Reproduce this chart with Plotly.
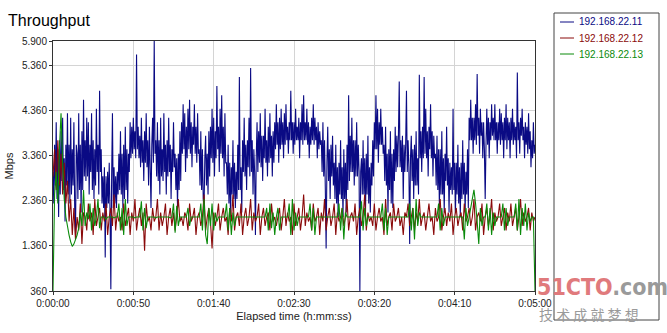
import numpy as np
import plotly.graph_objects as go

series_names = ["192.168.22.11", "192.168.22.12", "192.168.22.13"]
series_colors = ["#0a0a84", "#8a0a0a", "#0a8a0a"]
series_widths = [1.1, 1.1, 1.1]

# 192.168.22.11: samples every half second (Mbps)
ip11 = [3.0, 2.3, 3.6, 2.7, 4.1, 2.4, 3.5, 2.0, 3.7, 2.5, 3.9, 2.8, 4.2, 2.6, 3.3, 1.9, 3.6, 2.7, 4.3, 2.5,
        3.6, 2.3, 4.2, 2.5, 3.5, 2.7, 4.1, 2.2, 1.6, 3.6, 3.4, 2.4, 4.3, 2.6, 3.6, 2.1, 3.9, 2.6, 4.6, 2.9,
        3.7, 2.8, 4.2, 2.9, 4.1, 2.5, 3.6, 3.0, 4.3, 2.6, 3.7, 2.4, 3.5, 2.7, 4.4, 3.0, 3.6, 2.5, 4.8, 3.0, 3.5, 2.3,
        2.9, 2.2, 3.1, 1.1, 2.9, 2.2, 3.0, 2.3, 3.2, 2.1, 0.4, 2.9, 4.3, 2.2, 3.1, 2.3, 2.9, 2.2, 3.0, 2.5,
        3.4, 2.6, 3.9, 2.5, 3.4, 2.2, 3.6, 2.4, 4.0, 2.6, 3.5, 2.3, 3.4, 3.0,
        4.1, 3.3, 4.0, 3.4, 4.2, 3.5, 3.9, 3.3, 5.6, 3.5, 4.0, 3.3,
        3.8, 3.1, 4.2, 3.2, 3.7, 2.8, 3.9, 3.2, 4.3, 3.1, 3.7, 2.7, 4.0, 3.1, 2.2, 3.6, 4.2, 3.2,
        5.9, 3.4,
        3.7, 2.9, 4.1, 2.8, 3.7, 2.5, 4.2, 2.9, 3.5, 2.8, 4.3, 3.0, 3.6, 2.5, 3.7, 2.9, 4.2, 3.0, 3.6, 2.4, 3.5, 3.0, 4.1, 3.1,
        3.4, 2.6, 3.3, 2.2, 3.4, 2.6, 3.9, 2.8,
        4.1, 3.4, 4.5, 3.5, 4.3, 3.0, 4.0, 3.3, 4.4, 3.5, 4.6, 3.4, 4.1, 3.1, 4.0, 3.6, 4.5, 3.4, 4.0, 3.2, 4.3, 3.4,
        3.5, 2.7, 3.9, 2.6, 3.5, 2.4, 2.2, 3.3, 3.8, 2.7, 3.4, 2.5, 3.9, 2.9,
        4.0, 3.3, 4.4, 3.2, 4.2, 2.9, 3.9, 3.3, 4.9, 3.5, 4.0, 3.0, 4.4, 3.4, 4.7, 3.3, 4.0, 2.9, 4.3, 3.2,
        3.2, 2.5, 3.6, 2.3, 3.2, 2.0, 3.1, 2.5, 3.7, 2.4, 3.2, 2.2, 3.0, 2.4, 3.6, 2.6, 5.1, 2.6, 3.1, 2.1,
        3.7, 3.0, 4.2, 2.9, 3.6, 2.6, 3.7, 3.1, 4.2, 2.9, 5.3, 3.0, 3.7, 2.5, 3.5, 3.0, 1.6, 3.3, 4.1, 3.0,
        3.9, 3.2, 4.3, 3.1, 3.8, 2.8, 3.8, 3.3, 4.4, 3.2, 3.7, 2.9, 4.0, 3.2, 4.3, 3.3, 3.8, 2.9, 3.9, 3.2,
        4.1, 3.5, 4.5, 3.6, 4.1, 3.2, 4.2, 3.5, 4.4, 3.6, 4.1, 3.3, 4.3, 3.6, 4.5, 3.7, 4.0, 3.4,
        4.1, 3.7, 4.8, 3.7, 4.1, 3.4, 4.1, 3.6, 4.4, 3.7, 4.0, 3.7, 4.2, 3.3, 4.1, 3.7, 4.5, 3.6, 4.7, 3.7,
        4.1, 3.7, 4.4, 3.6, 4.1, 3.3, 4.0, 3.6, 4.2, 3.7, 4.5, 3.6, 4.2, 3.7, 4.0, 3.3, 4.1, 3.5, 3.9, 3.6,
        3.7, 3.0, 4.1, 2.9, 3.7, 2.6, 1.3, 3.2, 4.0, 2.8, 3.5, 2.4, 3.6, 2.9, 3.8, 2.7,
        3.2, 2.4, 3.6, 2.3, 3.1, 2.0, 3.2, 2.5, 3.7, 2.4, 3.1, 2.0, 3.5, 2.4, 3.2, 2.1, 3.6, 2.6, 4.7, 2.8,
        3.8, 3.0, 4.2, 3.0, 3.7, 2.7, 3.7, 2.9, 4.1, 2.9, 3.6, 3.0,
        0.36, 3.0,
        3.3, 2.5, 3.7, 2.5, 3.3, 2.1, 3.4, 2.5, 3.8, 2.3, 3.1, 2.1, 3.2, 2.7, 3.7, 2.9,
        4.1, 3.5, 4.7, 3.5, 4.4, 3.2, 4.1, 3.6, 4.4, 3.6, 4.0, 3.4,
        3.6, 2.8, 4.0, 2.7, 3.4, 2.1, 3.5, 2.6, 3.9, 2.3, 3.4, 2.2, 3.5, 2.8, 4.0, 3.0,
        3.8, 3.1, 3.8, 5.0, 3.1, 3.7, 3.0, 3.8, 2.4, 3.6, 3.0, 3.6, 4.8, 3.0, 3.7, 3.1,
        1.4, 3.3, 3.8, 2.8, 3.5, 2.4, 3.6, 2.7, 3.9, 2.7, 3.3, 2.5,
        5.15, 3.3, 3.9, 3.0, 4.0, 3.3, 5.1, 3.4, 4.4, 3.3, 3.9, 2.9, 4.0, 3.5, 4.5, 3.3, 3.9, 2.9, 3.8, 3.3,
        3.4, 2.7, 3.8, 2.6, 3.5, 2.2, 3.5, 2.5, 3.9, 2.5, 3.3, 2.1, 3.4, 2.8, 4.0, 2.7, 3.3, 2.1, 3.2, 2.6,
        3.1, 2.5, 4.4, 2.6, 3.2, 2.1, 3.2, 2.5, 3.6, 2.3, 3.1, 2.0, 3.2, 2.4, 3.7, 2.5, 3.2, 2.1, 3.0, 2.5, 3.5, 2.2,
        4.2, 3.7, 4.6, 3.7, 4.2, 3.4, 4.2, 3.7, 4.5, 3.6, 5.17, 3.8, 4.2, 3.4, 4.4, 3.8, 4.1, 3.3, 4.1, 3.5,
        2.4, 3.6, 4.4, 3.6, 4.2, 3.3, 4.1, 3.7, 4.5, 3.8,
        4.2, 3.7, 4.5, 3.7, 4.1, 3.4, 4.1, 3.7, 4.4, 3.6, 4.3, 3.7, 4.1, 3.3, 4.2, 3.7, 4.5, 3.5, 4.2, 3.7,
        4.1, 3.3, 4.2, 3.7, 4.4, 3.6, 4.1, 3.7, 4.0, 3.3, 5.2, 3.7, 4.1, 3.4, 4.2, 3.8, 4.4, 3.7, 4.0, 3.3,
        4.1, 3.6, 4.0, 3.4, 4.3, 3.5, 3.9, 3.1, 3.7, 3.3, 4.1, 3.4,
        3.6]

# 192.168.22.12: samples every second (Mbps)
ip12 = [2.9, 3.5, 2.6, 3.7, 2.7, 3.4, 2.5, 3.2, 2.3, 2.8,
        1.9, 2.4, 1.6, 2.2, 1.5, 2.0, 1.7, 2.3, 1.4, 2.1,
        2.0, 1.7, 2.3, 1.9, 2.1, 1.6, 2.4, 1.8, 2.0, 2.2, 1.7, 2.1, 1.9, 2.3, 1.6, 2.0, 2.2, 1.8, 2.5, 1.7,
        2.1, 1.9, 2.0, 1.7, 2.3, 1.8, 2.0, 2.2, 1.6, 2.1, 1.9, 2.4, 1.7, 2.0, 2.2, 1.8, 2.1, 1.25, 2.3, 1.9,
        2.0, 1.7, 2.2, 1.9, 2.0, 2.4, 1.7, 2.1, 1.8, 2.0, 2.3, 1.6, 2.0, 2.2, 1.8, 2.1, 1.7, 2.0, 2.4, 1.9,
        2.0, 1.8, 2.1, 2.0, 1.7, 2.3, 1.9, 2.0, 2.2, 1.6, 2.0, 2.1, 1.8, 2.0, 2.5, 1.7, 2.0, 2.2, 1.9, 1.3,
        2.1, 1.8, 2.0, 2.3, 1.7, 2.0, 2.2, 1.9, 2.0, 1.6, 2.2, 1.9, 2.5, 1.7, 2.0, 2.1, 1.8, 2.3, 1.6, 2.0,
        2.2, 1.8, 2.0, 2.4, 1.7, 2.1, 1.9, 2.0, 2.3, 1.6, 2.0, 2.2, 1.8, 2.0, 2.1, 1.7, 2.3, 1.9, 2.0, 1.8,
        2.0, 2.2, 1.7, 2.0, 2.4, 1.8, 2.1, 1.9, 2.0, 1.6, 2.3, 1.8, 2.0, 2.2, 1.7, 2.0, 2.5, 1.8, 2.1, 1.9,
        2.0, 1.7, 2.3, 1.9, 2.0, 2.2, 1.6, 2.1, 1.9, 2.4, 1.7, 2.0, 2.2, 1.8, 2.0, 2.3, 1.6, 2.1, 1.9, 2.0,
        2.2, 1.8, 2.0, 2.4, 1.7, 2.0, 2.1, 1.9, 2.3, 1.6, 2.0, 2.2, 1.8, 2.0, 2.5, 1.7, 2.1, 1.9, 2.0, 1.8,
        2.3, 1.7, 2.0, 2.2, 1.9, 2.0, 1.6, 2.4, 1.8, 2.0, 2.1, 1.7, 2.3, 1.9, 2.0, 2.2, 1.8, 2.0, 1.6, 2.1,
        2.0, 2.3, 1.8, 2.0, 2.2, 1.7, 2.1, 1.9, 2.4, 1.8, 2.0, 2.1, 1.7, 2.0, 2.3, 1.9, 2.0, 1.6, 2.2, 1.9,
        2.0, 2.4, 1.7, 2.0, 2.2, 1.8, 2.1, 1.9, 2.3, 1.6, 2.0, 2.2, 1.8, 2.0, 2.1, 1.7, 2.3, 1.9, 2.0, 2.2,
        1.8, 2.0, 2.4, 1.7, 2.0, 2.1, 1.9, 2.3, 1.6, 2.0, 2.2, 1.8, 2.0, 2.4, 1.7, 2.1, 1.9, 2.0, 2.3, 1.8,
        2.0, 2.2, 1.7, 2.1, 1.9, 2.3, 1.8, 2.0, 2.2, 1.7, 2.0, 2.4, 1.8, 2.1, 1.9, 2.0, 2.2, 1.7, 2.1, 1.9,
        2.0]

# 192.168.22.13: samples every second (Mbps)
ip13 = [0.36, 2.5, 3.0, 2.3, 3.5, 4.3, 3.2, 2.4, 2.0, 1.8, 1.6, 1.45, 1.35, 1.4, 1.5, 1.6, 1.75, 2.1, 1.8, 2.6,
        1.8, 2.1, 1.95, 2.3, 1.7, 2.2, 1.8, 2.0, 2.4, 1.75, 2.0, 2.0, 2.0, 1.95, 2.0, 2.0, 2.0, 2.0, 1.98, 2.0,
        2.0, 2.3, 1.7, 2.2, 1.6, 2.4, 1.8, 2.0, 2.0, 2.0, 2.0, 1.98, 2.0, 2.0, 2.0, 2.35, 1.7, 2.2, 1.75, 2.0,
        2.0, 2.0, 2.0, 2.0, 1.98, 2.0, 2.0, 2.0, 2.0, 2.0, 2.0, 2.0, 2.0, 1.98, 2.0, 2.3, 1.65, 2.25, 1.8, 2.0,
        2.0, 2.0, 2.0, 2.0, 2.2, 1.8, 2.0, 2.0, 2.0, 2.0, 2.0, 2.0, 2.3, 1.7, 2.4, 1.6, 1.4, 2.2, 1.8, 2.3,
        1.7, 2.1, 1.9, 2.0, 2.0, 2.0, 2.0, 2.0, 2.3, 1.7, 2.2, 1.6, 2.1, 1.8, 2.0, 2.0, 2.0, 2.0, 2.0, 2.0,
        2.0, 2.0, 2.0, 2.0, 2.0, 2.0, 2.0, 2.0, 2.0, 2.0, 2.0, 2.0, 2.0, 2.2, 1.7, 2.3, 1.75, 2.1, 1.6, 2.0,
        2.2, 1.7, 2.0, 2.0, 2.0, 2.0, 2.0, 2.3, 1.6, 2.4, 1.7, 2.1, 1.8, 2.0, 2.0, 2.0, 2.0, 2.0, 2.0, 2.0,
        2.3, 1.7, 2.2, 1.6, 2.0, 2.0, 2.0, 2.0, 2.0, 2.0, 2.0, 2.0, 2.0, 2.0, 2.0, 2.0, 2.0, 2.0, 2.3, 1.7,
        2.2, 1.5, 2.1, 2.0, 2.0, 2.0, 2.0, 2.0, 2.0, 2.0, 2.0, 2.0, 2.35, 1.7, 2.2, 1.8, 2.0, 2.0, 2.0, 2.0,
        2.0, 2.0, 2.0, 2.0, 2.0, 2.3, 1.7, 2.2, 1.6, 2.0, 2.0, 2.0, 2.0, 2.0, 2.0, 2.0, 2.0, 2.0, 2.0, 2.0,
        2.0, 2.0, 2.3, 1.7, 2.2, 1.5, 2.4, 1.8, 2.1, 2.0, 2.0, 2.0, 2.0, 2.0, 2.0, 2.0, 2.0, 2.0, 2.0, 2.0,
        2.3, 1.7, 2.2, 1.8, 2.0, 2.0, 2.0, 2.0, 2.0, 2.0, 2.0, 2.0, 2.0, 2.0, 2.0, 2.0, 1.5, 2.2, 1.8, 2.0,
        2.2, 2.4, 2.6, 2.3, 1.9, 1.4, 2.2, 1.8, 2.0, 2.0, 2.3, 1.7, 2.2, 1.6, 2.1, 1.8, 2.0, 2.0, 2.0, 2.0,
        2.3, 1.7, 2.2, 1.8, 2.0, 2.0, 2.0, 2.0, 2.3, 1.7, 2.4, 1.6, 2.2, 1.8, 2.3, 1.7, 2.1, 1.9, 2.0, 2.0,
        0.36]

x_tickvals = [0, 50, 100, 150, 200, 250, 300]
x_ticktext = ["0:00:00", "0:00:50", "0:01:40", "0:02:30", "0:03:20", "0:04:10", "0:05:00"]
y_tickvals = [0.36, 1.36, 2.36, 3.36, 4.36, 5.36, 5.9]
y_ticktext = ["360", "1.360", "2.360", "3.360", "4.360", "5.360", "5.900"]

FONT = "Arial, Liberation Sans, sans-serif"

# pixel -> paper helpers for the plot box (53..535 x, 41..291 y)
def px(xp):
    return (xp - 53) / 482

def py(yp):
    return (291 - yp) / 250

fig = go.Figure()
for name, color, w, vals in zip(series_names, series_colors, series_widths, [ip11, ip12, ip13]):
    t = np.linspace(0, 300, len(vals))
    fig.add_trace(go.Scatter(
        x=t, y=vals, mode="lines",
        line=dict(color=color, width=w, simplify=False),
        name=name, showlegend=False))

fig.update_layout(
    width=667, height=333,
    margin=dict(l=53, r=132, t=41, b=42, autoexpand=False),
    paper_bgcolor="white", plot_bgcolor="white",
    font=dict(family=FONT, size=10, color="#222"),
    title=dict(text="Throughput", font=dict(size=16, color="#000", family=FONT),
               x=8 / 667, xanchor="left", xref="container",
               y=1 - 20 / 333, yanchor="middle", yref="container"),
    showlegend=False,
    xaxis=dict(range=[0, 300], tickvals=x_tickvals, ticktext=x_ticktext,
               showgrid=True, gridcolor="#d4d4d4", gridwidth=1,
               showline=True, linecolor="#333", linewidth=1, mirror=True,
               ticks="outside", ticklen=3, tickcolor="#333",
               tickfont=dict(size=10, color="#222"),
               title=dict(text="Elapsed time (h:mm:ss)", font=dict(size=11, color="#222"), standoff=4),
               zeroline=False),
    yaxis=dict(range=[0.36, 5.9], tickvals=y_tickvals, ticktext=y_ticktext,
               showgrid=True, gridcolor="#d4d4d4", gridwidth=1,
               showline=True, linecolor="#333", linewidth=1, mirror=True,
               ticks="outside", ticklen=3, tickcolor="#333",
               tickfont=dict(size=10, color="#222"),
               title=dict(text="Mbps", font=dict(size=11, color="#222"), standoff=6),
               zeroline=False),
)

# legend frame and entries
fig.add_shape(type="rect", xref="paper", yref="paper",
              x0=px(554), x1=px(659), y0=py(320), y1=py(13),
              line=dict(color="#444", width=1), fillcolor="rgba(0,0,0,0)", layer="above")
for i, (name, color) in enumerate(zip(series_names, series_colors)):
    yy = 22 + 16 * i
    fig.add_shape(type="line", xref="paper", yref="paper",
                  x0=px(560), x1=px(574), y0=py(yy), y1=py(yy),
                  line=dict(color=color, width=1))
    fig.add_annotation(xref="paper", yref="paper", x=px(577), y=py(yy),
                       xanchor="left", yanchor="middle", showarrow=False,
                       text=name, font=dict(size=10, color=color, family=FONT))

# watermark
fig.add_annotation(xref="paper", yref="paper", x=px(535), y=py(287),
                   xanchor="left", yanchor="middle", showarrow=False,
                   text="<b><span style='color:#e07a7c'>51CTO</span><span style='color:#9a9a9a'>.com</span></b>",
                   font=dict(size=23, family="DejaVu Sans Condensed, Liberation Sans Narrow, sans-serif"))
fig.add_annotation(xref="paper", yref="paper", x=px(537), y=py(314),
                   xanchor="left", yanchor="middle", showarrow=False,
                   text="技 术 成 就 梦 想",
                   font=dict(size=14, color="#9a9a9a", family="Noto Sans CJK SC"))

fig.write_html("out.html")
